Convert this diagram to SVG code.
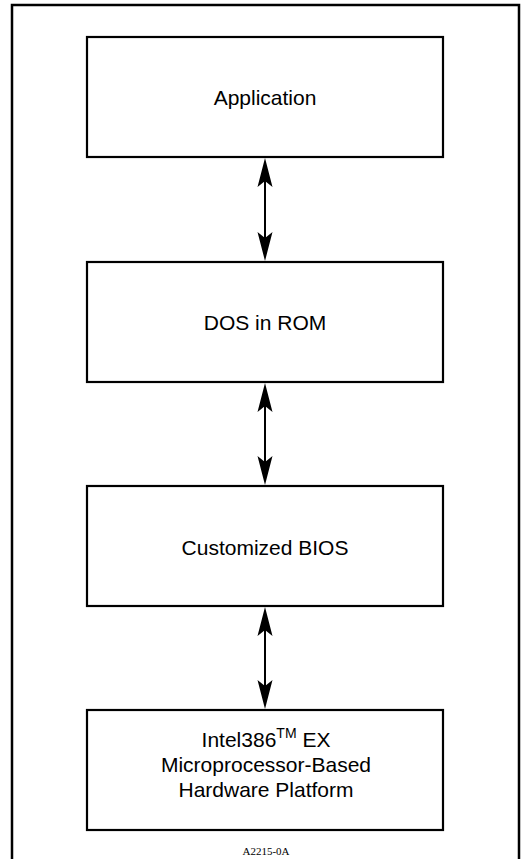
<svg xmlns="http://www.w3.org/2000/svg" width="524" height="859" viewBox="0 0 524 859">
<style>
.box{fill:#fff;stroke:#000;stroke-width:2.2}
.lbl{font-family:"Liberation Sans",Arial,sans-serif;font-size:21px;fill:#000;text-anchor:middle}
.shaft{stroke:#000;stroke-width:2;fill:none}
.head{fill:#000;stroke:none}
</style>
<defs>
<path id="up" class="head" d="M0,0 L-7.5,29 L0,23 L7.5,29 Z"/>
<path id="down" class="head" d="M0,0 L-7.5,-29 L0,-23 L7.5,-29 Z"/>
</defs>
<rect width="524" height="859" fill="#fff"/>
<path d="M12,859 V5 H519 V859" fill="none" stroke="#000" stroke-width="2.5"/>
<g id="connectors">
<g id="c1"><line class="shaft" x1="265" y1="170" x2="265" y2="250"/><use href="#up" x="265" y="158"/><use href="#down" x="265" y="261"/></g>
<g id="c2"><line class="shaft" x1="265" y1="395" x2="265" y2="474"/><use href="#up" x="265" y="383"/><use href="#down" x="265" y="485"/></g>
<g id="c3"><line class="shaft" x1="265" y1="619" x2="265" y2="698"/><use href="#up" x="265" y="607"/><use href="#down" x="265" y="709"/></g>
</g>
<g id="application"><rect class="box" x="87" y="37" width="356" height="120"/><text class="lbl" x="265" y="105">Application</text></g>
<g id="dos"><rect class="box" x="87" y="262" width="356" height="120"/><text class="lbl" x="265" y="330">DOS in ROM</text></g>
<g id="bios"><rect class="box" x="87" y="486" width="356" height="120"/><text class="lbl" x="265" y="555">Customized BIOS</text></g>
<g id="hardware"><rect class="box" x="87" y="710" width="356" height="120"/>
<text class="lbl" x="266" y="747">Intel386<tspan font-size="14" dy="-9">TM</tspan><tspan dy="9"> EX</tspan></text>
<text class="lbl" x="266" y="772">Microprocessor-Based</text>
<text class="lbl" x="266" y="797">Hardware Platform</text>
</g>
<text x="266" y="855" font-family="'Liberation Serif','Times New Roman',serif" font-size="11" text-anchor="middle">A2215-0A</text>
</svg>
